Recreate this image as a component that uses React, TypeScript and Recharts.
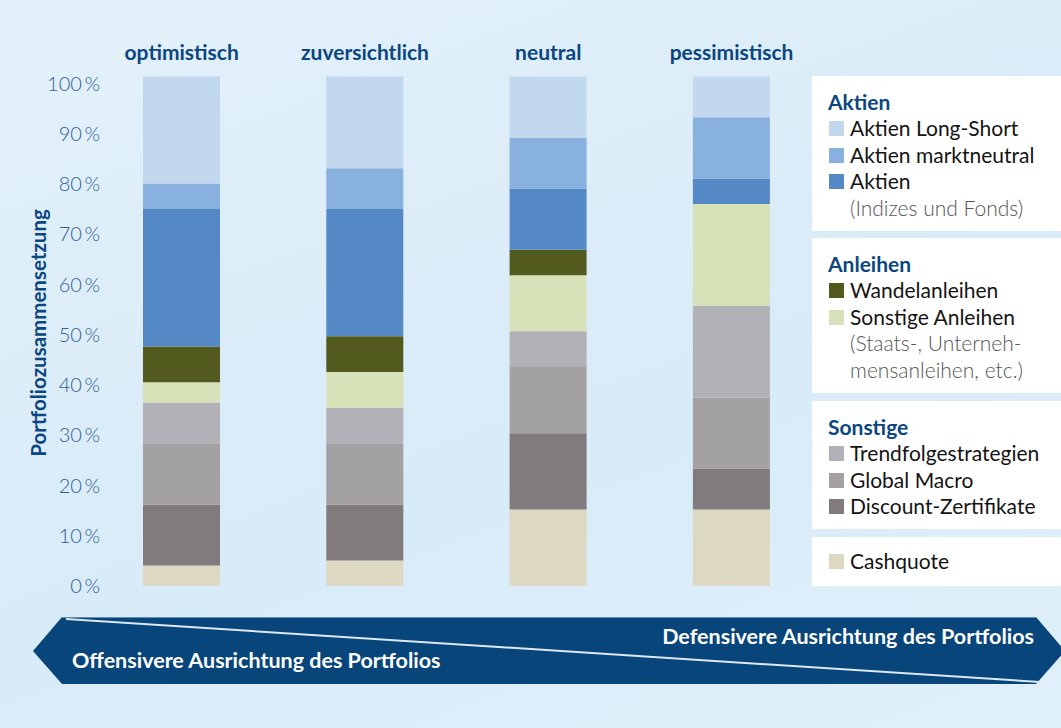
import React from 'react';
import { BarChart, Bar, XAxis, YAxis } from 'recharts';

// Szenarien (Kategorien)
const scenarios = ['optimistisch', 'zuversichtlich', 'neutral', 'pessimistisch'];

// Anteile in % je Szenario (von unten nach oben gestapelt)
const cashquote = [4, 5, 15, 15];
const discountZertifikate = [12, 11, 15, 8];
const globalMacro = [12, 12, 13, 14];
const trendfolgestrategien = [8, 7, 7, 18];
const sonstigeAnleihen = [4, 7, 11, 20];
const wandelanleihen = [7, 7, 5, 0];
const aktienIndizes = [27, 25, 12, 5];
const aktienMarktneutral = [5, 8, 10, 12];
const aktienLongShort = [21, 18, 12, 8];

const yTicks = [0, 10, 20, 30, 40, 50, 60, 70, 80, 90, 100];

const series = [
  { key: 'cash', name: 'Cashquote', color: '#ddd8c2', values: cashquote },
  { key: 'discount', name: 'Discount-Zertifikate', color: '#817b7d', values: discountZertifikate },
  { key: 'macro', name: 'Global Macro', color: '#a3a1a2', values: globalMacro },
  { key: 'trend', name: 'Trendfolgestrategien', color: '#b2b1b7', values: trendfolgestrategien },
  { key: 'sonstAnl', name: 'Sonstige Anleihen', color: '#d7e2b9', values: sonstigeAnleihen },
  { key: 'wandel', name: 'Wandelanleihen', color: '#525b1d', values: wandelanleihen },
  { key: 'aktien', name: 'Aktien', color: '#5589c6', values: aktienIndizes },
  { key: 'neutral', name: 'Aktien marktneutral', color: '#88b1df', values: aktienMarktneutral },
  { key: 'longShort', name: 'Aktien Long-Short', color: '#c2d8ee', values: aktienLongShort },
];

const data = scenarios.map((name, i) => {
  const row: Record<string, string | number> = { name };
  series.forEach((s) => {
    row[s.key] = s.values[i];
  });
  return row;
});

const colorOf = (key: string) => series.find((s) => s.key === key)!.color;
const nameOf = (key: string) => series.find((s) => s.key === key)!.name;

const legendBoxes = [
  { title: 'Aktien', keys: ['longShort', 'neutral', 'aktien'], notes: ['(Indizes und Fonds)'], top: 76, height: 155 },
  { title: 'Anleihen', keys: ['wandel', 'sonstAnl'], notes: ['(Staats-, Unterneh-', 'mensanleihen, etc.)'], top: 238, height: 155 },
  { title: 'Sonstige', keys: ['trend', 'macro', 'discount'], notes: [], top: 401, height: 128 },
  { title: '', keys: ['cash'], notes: [], top: 537, height: 49 },
];

const FONT = 'Lato, "Open Sans", sans-serif';
const DARK_BLUE = '#0b4680';

const YTick = (props: any) => {
  const { x, y, payload } = props;
  // Beschriftung sitzt im Original leicht gestaucht gegenüber den Balken
  const shift = -1 + (7 * payload.value) / 100;
  return (
    <text
      x={x + 10}
      y={y}
      dy={shift}
      textAnchor="end"
      dominantBaseline="central"
      fill="#2f6196"
      fontSize={20}
      fontWeight={300}
      fontFamily={FONT}
    >
      {`${payload.value}\u2009%`}
    </text>
  );
};

const YTitle = () => (
  <text
    x={38}
    y={333}
    transform="rotate(-90 38 333)"
    textAnchor="middle"
    dominantBaseline="central"
    fill={DARK_BLUE}
    fontSize={20.5}
    fontWeight={700}
    fontFamily={FONT}
  >
    Portfoliozusammensetzung
  </text>
);

const Legendbox = ({ box }: { box: (typeof legendBoxes)[number] }) => (
  <div
    style={{
      position: 'absolute',
      left: 812,
      top: box.top,
      width: 249,
      height: box.height,
      background: '#ffffff',
      paddingTop: box.title ? 12.75 : 11,
      boxSizing: 'border-box',
      fontFamily: FONT,
      fontSize: 21,
      lineHeight: '26.5px',
      whiteSpace: 'nowrap',
    }}
  >
    {box.title && (
      <div style={{ paddingLeft: 16, color: DARK_BLUE, fontWeight: 700 }}>{box.title}</div>
    )}
    {box.keys.map((k) => (
      <div key={k} style={{ display: 'flex', alignItems: 'center', height: 26.5, color: '#141414' }}>
        <span
          style={{
            display: 'inline-block',
            width: 15,
            height: 15,
            marginLeft: 17,
            marginRight: 6,
            background: colorOf(k),
          }}
        />
        {nameOf(k)}
      </div>
    ))}
    {box.notes.map((n) => (
      <div key={n} style={{ paddingLeft: 38, color: '#555555', fontWeight: 300 }}>
        {n}
      </div>
    ))}
  </div>
);

const Banner = () => (
  <svg width={1061} height={728} style={{ position: 'absolute', left: 0, top: 0, pointerEvents: 'none' }}>
    <polygon points="33,651 62,617 1036,617 1065,651 1036,684 62,684" fill="#08457a" />
    <line x1={62} y1={617.5} x2={1036} y2={617.5} stroke="#5f8fb8" strokeWidth={1} />
    <line x1={66} y1={619} x2={1040} y2={682} stroke="#dce8f2" strokeWidth={2} />
    <text
      x={1034}
      y={636}
      textAnchor="end"
      dominantBaseline="central"
      fill="#ffffff"
      fontSize={21.5}
      fontWeight={700}
      fontFamily={FONT}
    >
      Defensivere Ausrichtung des Portfolios
    </text>
    <text
      x={72}
      y={660}
      dominantBaseline="central"
      fill="#ffffff"
      fontSize={21.5}
      fontWeight={700}
      fontFamily={FONT}
    >
      Offensivere Ausrichtung des Portfolios
    </text>
  </svg>
);

export default function App() {
  return (
    <div
      style={{
        position: 'absolute',
        left: 0,
        top: 0,
        width: 1061,
        height: 728,
        overflow: 'hidden',
        background:
          'linear-gradient(160deg, #e3f1fa 0%, #dcedf8 35%, #d8ebf8 60%, #e0f0fa 100%)',
      }}
    >
      <div style={{ position: 'absolute', left: 0, top: 0 }}>
        <BarChart
          width={1061}
          height={728}
          data={data}
          margin={{ top: 46.5, right: 237.8, bottom: 142, left: 0 }}
          barSize={77}
        >
          <XAxis
            dataKey="name"
            orientation="top"
            height={30}
            axisLine={false}
            tickLine={false}
            tickSize={0}
            tickMargin={17}
            interval={0}
            tick={{ fill: DARK_BLUE, fontSize: 21, fontWeight: 700, fontFamily: FONT }}
          />
          <YAxis
            width={90}
            domain={[0, 100]}
            ticks={yTicks}
            axisLine={false}
            tickLine={false}
            tickSize={0}
            tickMargin={0}
            interval={0}
            tick={<YTick />}
            label={<YTitle />}
          />
          {series.map((s) => (
            <Bar key={s.key} dataKey={s.key} name={s.name} stackId="a" fill={s.color} isAnimationActive={false} />
          ))}
        </BarChart>
      </div>
      {legendBoxes.map((b) => (
        <Legendbox key={b.top} box={b} />
      ))}
      <Banner />
    </div>
  );
}
